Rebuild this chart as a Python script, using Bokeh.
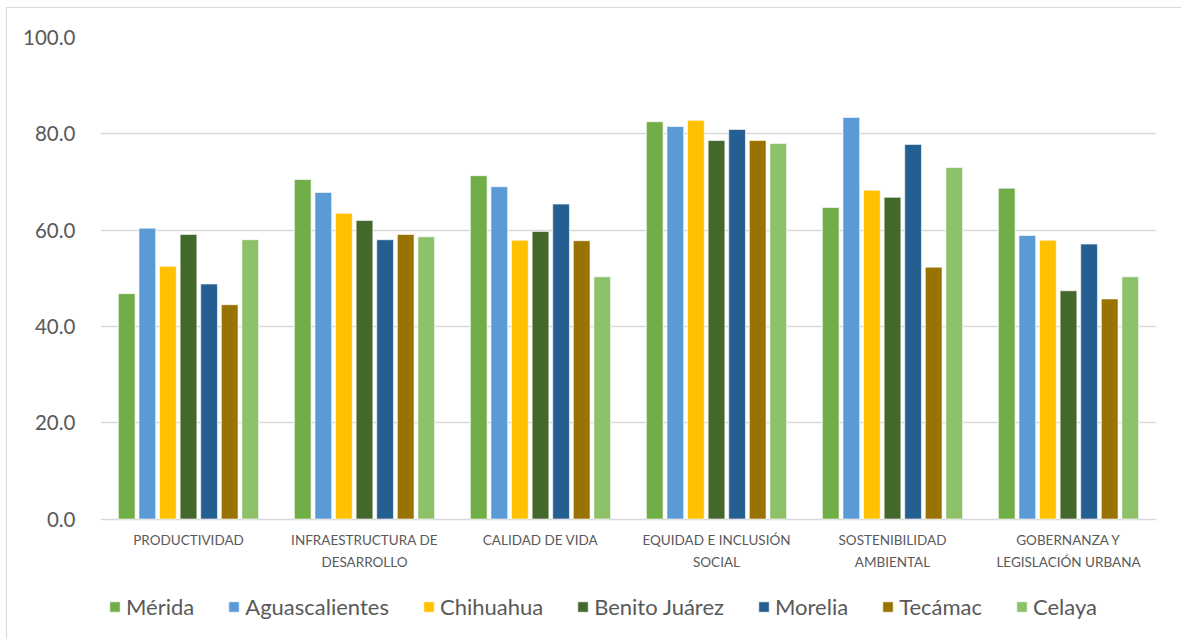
from bokeh.plotting import figure
from bokeh.models import (ColumnDataSource, Legend, LegendItem,
                          NumeralTickFormatter, FixedTicker, Range1d)
from bokeh.core.properties import value
from bokeh.transform import dodge
from bokeh.embed import file_html
from bokeh.resources import INLINE

# Dimension names (line breaks as shown under the axis)
categories = [
    "PRODUCTIVIDAD",
    "INFRAESTRUCTURA DE\nDESARROLLO",
    "CALIDAD DE VIDA",
    "EQUIDAD E INCLUSIÓN\nSOCIAL",
    "SOSTENIBILIDAD\nAMBIENTAL",
    "GOBERNANZA Y\nLEGISLACIÓN URBANA",
]

# Index values per city
cities = ["Mérida", "Aguascalientes", "Chihuahua", "Benito Juárez",
          "Morelia", "Tecámac", "Celaya"]
merida = [46.8, 70.5, 71.3, 82.5, 64.7, 68.7]
aguascalientes = [60.4, 67.8, 69.0, 81.5, 83.4, 58.9]
chihuahua = [52.5, 63.5, 57.9, 82.8, 68.3, 57.9]
benito_juarez = [59.1, 62.0, 59.7, 78.6, 66.8, 47.4]
morelia = [48.8, 58.0, 65.4, 80.9, 77.8, 57.1]
tecamac = [44.5, 59.1, 57.8, 78.6, 52.3, 45.7]
celaya = [58.0, 58.6, 50.3, 78.0, 73.0, 50.3]

y_ticks = [0, 20, 40, 60, 80, 100]

colors = ["#70AD47", "#5B9BD5", "#FFC000", "#43682B",
          "#255E91", "#997300", "#8CC168"]
series = [merida, aguascalientes, chihuahua, benito_juarez,
          morelia, tecamac, celaya]
cols = ["s%d" % i for i in range(len(series))]

# each category occupies one unit of the x range, centred on k + 0.5
centers = [k + 0.5 for k in range(len(categories))]
data = {"x": centers}
for c, s in zip(cols, series):
    data[c] = s
source = ColumnDataSource(data)
label_source = ColumnDataSource({"x": centers, "y": [0] * len(categories),
                                 "label": categories})

FONT = "Lato"
TEXT = "#595959"
GRID = "#D9D9D9"

# The plot frame runs down to the bottom of the canvas so that the
# category names and the legend sit inside it, under the zero line.
PX_PER_UNIT = 4.815
BELOW_ZERO_PX = 121.5
y_low = -BELOW_ZERO_PX / PX_PER_UNIT

p = figure(x_range=Range1d(0, len(categories)), y_range=Range1d(y_low, 100),
           width=1175, height=632, output_backend="svg",
           toolbar_location=None,
           min_border_left=93, min_border_right=26,
           min_border_top=29, min_border_bottom=0)
p.styles = {"margin-left": "6px", "margin-top": "7px",
            "border-left": "1.5px solid #D9D9D9",
            "border-top": "1.5px solid #D9D9D9"}
p.outline_line_color = None
p.background_fill_color = "white"
p.border_fill_color = "white"

pitch = 0.117
bar_w = 0.095
items = []
for i, (c, name, col) in enumerate(zip(cols, cities, colors)):
    r = p.vbar(x=dodge("x", (i - 3) * pitch), top=c,
               width=bar_w, source=source, fill_color=col,
               line_color="white", line_alpha=0.6, line_width=1)
    items.append(LegendItem(label=name, renderers=[r]))

# Category names under the zero line
p.text(x="x", y="y", text="label", source=label_source,
       y_offset=13, text_align="center", text_baseline="top",
       text_font=value(FONT), text_font_size="13.5px",
       text_color=TEXT, text_line_height=1.35)

# Grid and axes
p.xaxis.visible = False
p.xgrid.grid_line_color = None
p.ygrid.grid_line_color = GRID
p.ygrid.grid_line_width = 1.3
p.yaxis.ticker = FixedTicker(ticks=y_ticks, minor_ticks=[])
p.yaxis.formatter = NumeralTickFormatter(format="0.0")
p.yaxis.axis_line_color = None
p.yaxis.major_tick_line_color = None
p.yaxis.minor_tick_line_color = None
p.yaxis.major_label_text_font = FONT
p.yaxis.major_label_text_font_size = "20.5px"
p.yaxis.major_label_text_color = TEXT
p.yaxis.major_label_standoff = 19

legend = Legend(items=items, orientation="horizontal", location=(8, 20),
                glyph_width=13, glyph_height=13, label_standoff=5,
                spacing=33, padding=0, margin=0,
                border_line_color=None, background_fill_alpha=0,
                label_text_font=FONT, label_text_font_size="22px",
                label_text_color=TEXT)
p.add_layout(legend)

open("out.html", "w").write(file_html(p, INLINE))
